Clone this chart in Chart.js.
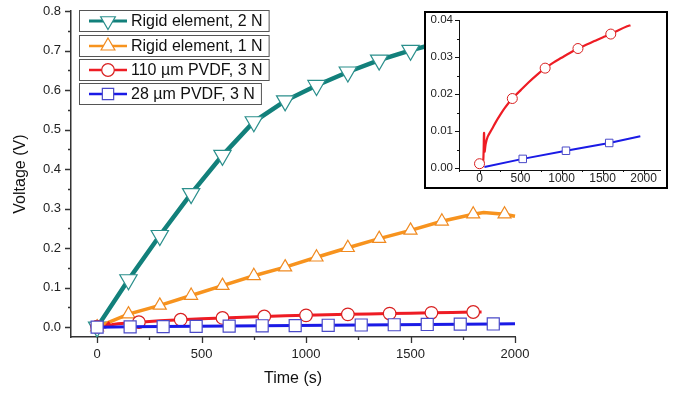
<!DOCTYPE html>
<html>
<head>
<meta charset="utf-8">
<script src="https://cdn.jsdelivr.net/npm/chart.js@4"></script>
<style>
html, body { margin: 0; padding: 0; background: #fff; }
#wrap { position: relative; width: 680px; height: 393px; overflow: hidden; }
#main { position: absolute; left: 0; top: 0; }
#insetBox { position: absolute; left: 424px; top: 11px; width: 240px; height: 174px; border: 2px solid #000; background: #fff; }
#inset { display: block; }
</style>
</head>
<body>
<div id="wrap">
  <canvas id="main" width="680" height="393"></canvas>
  <div id="insetBox"><canvas id="inset" width="240" height="174"></canvas></div>
</div>
<script>
// series labels
const seriesLabels = ['Rigid element, 2 N', 'Rigid element, 1 N', '110 µm PVDF, 3 N', '28 µm PVDF, 3 N'];

// rigid element, 2 N
const tealT = [0, 150, 300, 450, 600, 750, 900, 1050, 1200, 1350, 1500, 1650, 1800];
const tealV = [0.000, 0.120, 0.232, 0.338, 0.435, 0.520, 0.573, 0.612, 0.646, 0.676, 0.701, 0.722, 0.740];
const tealMarks = [0, 150, 300, 450, 600, 750, 900, 1050, 1200, 1350, 1500, 1650, 1800];

// rigid element, 1 N
const orangeT = [0, 150, 300, 450, 600, 750, 900, 1050, 1200, 1350, 1500, 1650, 1800, 1850, 1950, 2000];
const orangeV = [0.000, 0.033, 0.055, 0.080, 0.105, 0.130, 0.152, 0.177, 0.201, 0.224, 0.245, 0.268, 0.286, 0.290, 0.286, 0.281];
const orangeMarks = [0, 150, 300, 450, 600, 750, 900, 1050, 1200, 1350, 1500, 1650, 1800, 1950];

// 110 um PVDF, 3 N
const redT = [0, 40, 55, 62, 75, 100, 150, 200, 250, 300, 400, 500, 600, 700, 800, 900, 1000, 1100, 1200, 1300, 1400, 1500, 1600, 1700, 1800, 1840];
const redV = [0.0012, 0.0005, 0.0095, 0.0045, 0.0065, 0.0085, 0.0105, 0.0125, 0.0143, 0.0160, 0.0188, 0.0210, 0.0232, 0.0252, 0.0270, 0.0285, 0.0298, 0.0311, 0.0323, 0.0333, 0.0343, 0.0353, 0.0362, 0.0373, 0.0383, 0.0386];
const redMarks = [0, 200, 400, 600, 800, 1000, 1200, 1400, 1600, 1800];
const redInsetMarks = [0, 400, 800, 1200, 1600];

// 28 um PVDF, 3 N
const blueT = [0, 158, 316, 474, 632, 790, 948, 1106, 1264, 1422, 1580, 1738, 1896, 2000];
const blueV = [0.0000, 0.0007, 0.0013, 0.0020, 0.0027, 0.0034, 0.0040, 0.0047, 0.0054, 0.0060, 0.0067, 0.0074, 0.0080, 0.0085];
const blueMarks = [0, 158, 316, 474, 632, 790, 948, 1106, 1264, 1422, 1580, 1738, 1896];
const blueInsetT = [60, 527, 1054, 1581, 1960];
const blueInsetV = [0.0003, 0.0025, 0.0047, 0.0068, 0.0086];
const blueInsetMarks = [527, 1054, 1581];

// tick labels
const xTicks = [0, 500, 1000, 1500, 2000];
const yTicks = [0, 0.1, 0.2, 0.3, 0.4, 0.5, 0.6, 0.7, 0.8];
const insetXTicks = [0, 500, 1000, 1500, 2000];
const insetYTicks = [0, 0.01, 0.02, 0.03, 0.04];

const TEAL = '#12807b', ORANGE = '#f7931e', RED = '#ee1c24', BLUE = '#1a1ae6';

Chart.defaults.font.family = '"Liberation Sans", Arial, sans-serif';
Chart.defaults.color = '#222';

function pts(ts, vs) {
  return ts.map((t, i) => ({ x: t, y: vs[i] }));
}

function drawMarker(ctx, type, x, y, r, color) {
  ctx.save();
  ctx.fillStyle = '#fff';
  ctx.strokeStyle = color;
  ctx.lineWidth = 1.2;
  ctx.beginPath();
  if (type === 'circle') {
    ctx.arc(x, y, r, 0, Math.PI * 2);
  } else if (type === 'rect') {
    const s = r * Math.SQRT1_2;
    ctx.rect(x - s, y - s, 2 * s, 2 * s);
  } else {
    const d = type === 'down' ? 1 : -1;
    ctx.moveTo(x, y + d * r);
    ctx.lineTo(x + r * 0.866, y - d * r / 2);
    ctx.lineTo(x - r * 0.866, y - d * r / 2);
    ctx.closePath();
  }
  ctx.fill();
  ctx.stroke();
  ctx.restore();
}

// let layout padding alone decide the plot area
function noEdgePad(s) {
  s.paddingTop = 0;
  s.paddingBottom = 0;
  s.paddingLeft = 0;
  s.paddingRight = 0;
}

// major + minor tick marks, drawn outward from the axes
const axisTicks = {
  id: 'axisTicks',
  afterDraw(chart, args, o) {
    const ctx = chart.ctx;
    ctx.save();
    ctx.strokeStyle = o.color;
    ctx.lineWidth = o.width;
    Object.values(chart.scales).forEach(s => {
      const vals = s.ticks.map(t => t.value);
      const step = vals[1] - vals[0];
      const marks = [];
      vals.forEach(v => marks.push([v, o.major]));
      vals.forEach(v => marks.push([v + step / 2, o.minor]));
      marks.push([vals[0] - step / 2, o.minor]);
      ctx.beginPath();
      marks.forEach(([v, len]) => {
        if (v < s.min - 1e-9 || v > s.max + 1e-9) return;
        const p = Math.round(s.getPixelForValue(v)) + 0.5;
        if (s.isHorizontal()) {
          ctx.moveTo(p, s.top);
          ctx.lineTo(p, s.top + len);
        } else {
          ctx.moveTo(s.right, p);
          ctx.lineTo(s.right - len, p);
        }
      });
      ctx.stroke();
    });
    ctx.restore();
  }
};

// boxed legend entries with line + marker sample
const seriesBoxes = {
  id: 'seriesBoxes',
  afterDraw(chart, args, o) {
    const ctx = chart.ctx;
    ctx.save();
    ctx.font = '16px "Liberation Sans", Arial, sans-serif';
    ctx.textBaseline = 'middle';
    o.items.forEach((it, i) => {
      const top = o.tops[i];
      const w = 52 + ctx.measureText(it.label).width + 6;
      ctx.fillStyle = '#fff';
      ctx.fillRect(o.left, top, w, o.h);
      ctx.strokeStyle = '#555';
      ctx.lineWidth = 1;
      ctx.strokeRect(o.left + 0.5, top + 0.5, w, o.h);
      const cy = top + o.h / 2 + 0.5;
      ctx.strokeStyle = it.color;
      ctx.lineWidth = it.lw;
      ctx.beginPath();
      ctx.moveTo(o.left + 10, cy);
      ctx.lineTo(o.left + 48, cy);
      ctx.stroke();
      drawMarker(ctx, it.marker, o.left + 29, cy, it.r, it.mc);
      ctx.fillStyle = '#111';
      ctx.fillText(it.label, o.left + 52, cy + 0.5);
    });
    ctx.restore();
  }
};

function markRadius(marks, r) {
  return c => (c.raw && marks.includes(c.raw.x)) ? r : 0;
}

new Chart(document.getElementById('main'), {
  type: 'line',
  data: {
    datasets: [
      {
        label: seriesLabels[0], data: pts(tealT, tealV), order: 4,
        borderColor: TEAL, borderWidth: 4.5, tension: 0, clip: false,
        pointStyle: 'triangle', rotation: 180, pointRadius: markRadius(tealMarks, 10),
        pointBackgroundColor: '#fff', pointBorderColor: '#2b8f8c', pointBorderWidth: 1.2
      },
      {
        label: seriesLabels[1], data: pts(orangeT, orangeV), order: 3,
        borderColor: ORANGE, borderWidth: 3.5, tension: 0, clip: false,
        pointStyle: 'triangle', pointRadius: markRadius(orangeMarks, 7.5),
        pointBackgroundColor: '#fff', pointBorderColor: '#f08a20', pointBorderWidth: 1.2
      },
      {
        label: seriesLabels[2], data: pts(redT, redV), order: 2,
        borderColor: RED, borderWidth: 3, tension: 0, clip: false,
        pointStyle: 'circle', pointRadius: markRadius(redMarks, 6.3),
        pointBackgroundColor: '#fff', pointBorderColor: '#d82020', pointBorderWidth: 1.2
      },
      {
        label: seriesLabels[3], data: pts(blueT, blueV), order: 1,
        borderColor: BLUE, borderWidth: 3, tension: 0, clip: false,
        pointStyle: 'rect', pointRadius: markRadius(blueMarks, 8.5),
        pointBackgroundColor: '#fff', pointBorderColor: '#4a4ac8', pointBorderWidth: 1.2
      }
    ]
  },
  options: {
    responsive: false,
    animation: false,
    events: [],
    layout: { padding: { left: 11, right: 165, top: 10, bottom: 5 } },
    plugins: {
      legend: { display: false },
      tooltip: { enabled: false },
      axisTicks: { color: '#333', width: 1.3, major: 6, minor: 3 },
      seriesBoxes: {
        left: 79, tops: [10, 35, 59, 83], h: 21,
        items: [
          { label: seriesLabels[0], color: TEAL, lw: 3, marker: 'down', r: 8.5, mc: '#2b8f8c' },
          { label: seriesLabels[1], color: ORANGE, lw: 2.5, marker: 'up', r: 8, mc: '#f08a20' },
          { label: seriesLabels[2], color: RED, lw: 2.5, marker: 'circle', r: 6.3, mc: '#d82020' },
          { label: seriesLabels[3], color: BLUE, lw: 2.5, marker: 'rect', r: 8, mc: '#4a4ac8' }
        ]
      }
    },
    scales: {
      x: {
        type: 'linear', min: -125, max: 2000,
        afterBuildTicks: s => { s.ticks = xTicks.map(v => ({ value: v })); },
        afterFit: s => { s.height = 51; noEdgePad(s); },
        grid: { display: false, drawTicks: false },
        border: { color: '#333', width: 1.5 },
        ticks: { autoSkip: false, maxRotation: 0, padding: 10, font: { size: 13 }, color: '#222', callback: v => String(v) },
        title: { display: true, text: 'Time (s)', font: { size: 16 }, color: '#111', padding: 0 }
      },
      y: {
        type: 'linear', min: -0.025, max: 0.8,
        afterBuildTicks: s => { s.ticks = yTicks.map(v => ({ value: v })); },
        afterFit: s => { s.width = 60; noEdgePad(s); },
        grid: { display: false, drawTicks: false },
        border: { color: '#333', width: 1.5 },
        ticks: { autoSkip: false, padding: 10, font: { size: 13 }, color: '#222', callback: v => v.toFixed(1) },
        title: { display: true, text: 'Voltage (V)', font: { size: 16 }, color: '#111', padding: 0 }
      }
    }
  },
  plugins: [axisTicks, seriesBoxes]
});

new Chart(document.getElementById('inset'), {
  type: 'line',
  data: {
    datasets: [
      {
        data: pts(redT, redV), order: 2,
        borderColor: RED, borderWidth: 2.2, tension: 0.3, clip: false,
        pointStyle: 'circle', pointRadius: markRadius(redInsetMarks, 5),
        pointBackgroundColor: '#fff', pointBorderColor: '#d82020', pointBorderWidth: 1
      },
      {
        data: pts(blueInsetT, blueInsetV), order: 1,
        borderColor: BLUE, borderWidth: 2, tension: 0, clip: false,
        pointStyle: 'rect', pointRadius: markRadius(blueInsetMarks, 5.3),
        pointBackgroundColor: '#fff', pointBorderColor: '#4a4ac8', pointBorderWidth: 1
      }
    ]
  },
  options: {
    responsive: false,
    animation: false,
    events: [],
    layout: { padding: { left: 0, right: 4, top: 7, bottom: 0 } },
    plugins: {
      legend: { display: false },
      tooltip: { enabled: false },
      axisTicks: { color: '#111', width: 1, major: 4, minor: 2 }
    },
    scales: {
      x: {
        type: 'linear', min: -250, max: 2200,
        afterBuildTicks: s => { s.ticks = insetXTicks.map(v => ({ value: v })); },
        afterFit: s => { s.height = 17; noEdgePad(s); },
        grid: { display: false, drawTicks: false },
        border: { color: '#111', width: 1 },
        ticks: { autoSkip: false, maxRotation: 0, padding: 3, font: { size: 12, lineHeight: 1 }, color: '#222', callback: v => String(v) }
      },
      y: {
        type: 'linear', min: -0.0005, max: 0.04,
        afterBuildTicks: s => { s.ticks = insetYTicks.map(v => ({ value: v })); },
        afterFit: s => { s.width = 33; noEdgePad(s); },
        grid: { display: false, drawTicks: false },
        border: { color: '#111', width: 1 },
        ticks: { autoSkip: false, padding: 6, font: { size: 11.5, lineHeight: 1 }, color: '#222', callback: v => v.toFixed(2) }
      }
    }
  },
  plugins: [axisTicks]
});
</script>
</body>
</html>
